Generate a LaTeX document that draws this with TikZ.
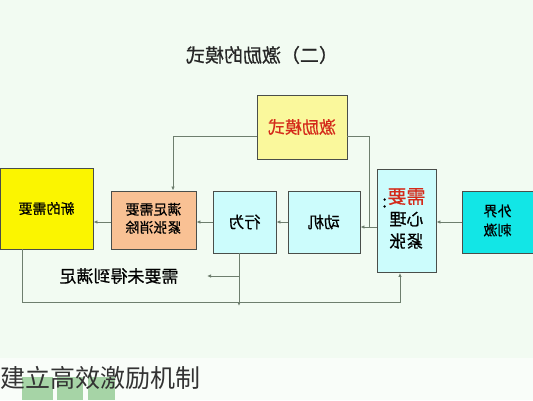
\documentclass[tikz,border=0pt]{standalone}
\usepackage{fontspec}
\newfontfamily\cjk[FakeBold=0.6]{Noto Sans CJK SC}
\newfontfamily\cjkcap{Noto Sans CJK SC}
\usetikzlibrary{arrows.meta}
\definecolor{bgtop}{HTML}{F2FBF2}
\definecolor{bgbot}{HTML}{F9FDF9}
\definecolor{linec}{HTML}{6E7E6E}
\definecolor{boxb}{HTML}{4A4E4A}
\definecolor{lcyan}{HTML}{CCFCFC}
\definecolor{dcyan}{HTML}{12E6E6}
\definecolor{peach}{HTML}{F9C194}
\definecolor{yel}{HTML}{FBF500}
\definecolor{lyel}{HTML}{FAF89C}
\definecolor{redt}{HTML}{D42A1A}
\definecolor{grn}{HTML}{A6D4A6}
\newcommand\mirror[1]{\reflectbox{#1}}
\tikzset{
  box/.style={draw=boxb, line width=0.9pt, rectangle, inner sep=0pt, font=\cjk},
  conn/.style={draw=linec, line width=0.8pt},
  arr/.style={conn, -{Latex[length=4pt,width=3.5pt]}},
}
\begin{document}
\begin{tikzpicture}[x=1pt,y=-1pt]
\useasboundingbox (0,0) rectangle (533,400);
\fill[bgtop] (0,0) rectangle (533,358);
\fill[bgbot] (0,358) rectangle (533,400);
% title
\node[font=\cjk\fontsize{19}{22}\selectfont, text=black!85] (title) at (262,55) {\mirror{（二）激励的模式}};
% boxes
\node[box, fill=lyel, minimum width=90, minimum height=64] (mode) at (302,127)
  {\mirror{\color{redt}\fontsize{17}{20}\selectfont 激励模式}};
\node[box, fill=yel, minimum width=93, minimum height=81] (new) at (46.5,208.5)
  {\mirror{\fontsize{14}{18}\selectfont 新的需要}};
\node[box, fill=peach, minimum width=85, minimum height=58] (sat) at (153.5,220)
  {\mirror{\fontsize{14}{18}\selectfont\begin{tabular}{@{}c@{}}满足需要\\紧张消除\end{tabular}}};
\node[box, fill=lcyan, minimum width=63, minimum height=62] (beh) at (244.5,222)
  {\mirror{\fontsize{16}{19}\selectfont 行为}};
\node[box, fill=lcyan, minimum width=72, minimum height=62] (mot) at (324,222)
  {\mirror{\fontsize{16}{19}\selectfont 动机}};
\node[box, fill=lcyan, minimum width=59, minimum height=103] (psy) at (406.5,221)
  {\mirror{\fontsize{17}{22}\selectfont\begin{tabular}{@{}c@{}}{\color{redt}\fontsize{19}{22}\selectfont 需要}\rlap{\kern0.5pt\raisebox{-4pt}{\fontsize{17}{22}\selectfont :}}\\心理\\紧张\end{tabular}}};
\node[box, fill=dcyan, minimum width=71, minimum height=62] (ext) at (497.5,222)
  {\mirror{\fontsize{14}{19}\selectfont\begin{tabular}{@{}c@{}}外界\\刺激\end{tabular}}};
\node[font=\cjk\fontsize{17}{20}\selectfont, inner sep=1pt] (unmet) at (119,276) {\mirror{需要未得到满足}};
% coordinates
\coordinate (mr) at (369,136);
\coordinate (ml) at (173,136);
\coordinate (j) at (369,227);
\coordinate (bx) at (239,302);
\coordinate (bd) at (239,306);
\coordinate (ua) at (207,276);
\coordinate (ub) at (239,276);
\coordinate (bl) at (22,302);
\coordinate (br) at (400,302);
% connectors
\draw[arr] (ext.west) -- (ext.west -| psy.east);
\draw[arr] (psy.west |- j) -- (mot.east |- j);
\draw[conn] (mode.east |- mr) -- (mr) -- (j);
\draw[arr] (mode.west |- ml) -- (ml) -- (ml |- sat.north);
\draw[arr] (mot.west |- beh.east) -- (beh.east);
\draw[arr] (beh.west) -- (beh.west -| sat.east);
\draw[arr] (sat.west |- 0,222) -- (new.east |- 0,222);
\draw[arr] (beh.south -| bx) -- (bd);
\draw[arr] (ub) -- (ua);
\draw[arr] (new.south -| bl) -- (bl) -- (br) -- (br |- psy.south);
% bottom squares and caption
\fill[grn] (22,377) rectangle (53,400);
\fill[grn] (57,377) rectangle (83,400);
\fill[grn] (88,377) rectangle (115,400);
\node[font=\cjkcap\fontsize{25}{28}\selectfont, text=black!80, anchor=west, inner sep=0pt] (cap) at (0,378) {建立高效激励机制};
\end{tikzpicture}
\end{document}
